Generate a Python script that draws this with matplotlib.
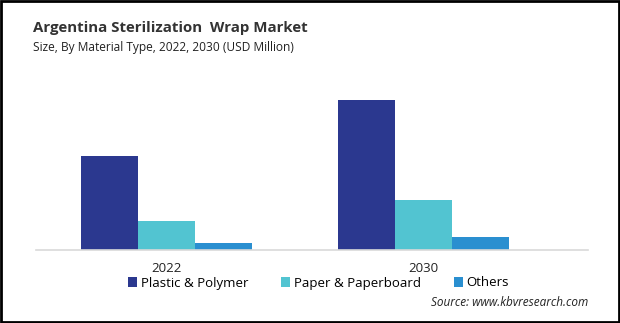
import matplotlib
matplotlib.use("Agg")
import matplotlib.pyplot as plt
import numpy as np
from matplotlib.patches import Patch, Rectangle

plt.rcParams['font.family'] = ['Open Sans', 'DejaVu Sans']

years = ['2022', '2030']
segments = ['Plastic & Polymer', 'Paper & Paperboard', 'Others']
plastic = [9.4, 15.0]
paper = [2.9, 5.0]
others = [0.7, 1.3]
colors = ['#2b388f', '#52c4d1', '#2a8fd0']

fig = plt.figure(figsize=(6.2, 3.23), dpi=100)
ax = fig.add_axes([36/620, 1-250/323, (588-36)/620, (250-80)/323])

x = np.arange(len(years))
w = 0.222
for i, (vals, c) in enumerate(zip([plastic, paper, others], colors)):
    ax.bar(x + (i-1)*w, vals, width=w, color=c, linewidth=0)

ax.set_xlim(-0.508, 1.640)
ax.set_ylim(0, 17.0)
ax.set_yticks([])
ax.set_xticks(x)
ax.set_xticklabels(years, fontsize=9.5, color='#222222')
ax.tick_params(axis='x', length=0, pad=9)
for s in ['top', 'right', 'left']:
    ax.spines[s].set_visible(False)
ax.spines['bottom'].set_color('#d9d9d9')
ax.spines['bottom'].set_linewidth(1.2)

fig.text(33/620, 1-28/323, 'Argentina Sterilization  Wrap Market', fontsize=10.8,
         fontweight='bold', color='#333333', va='center', ha='left')
fig.text(33/620, 1-47/323, 'Size, By Material Type, 2022, 2030 (USD Million)', fontsize=8.6,
         color='#222222', va='center', ha='left')

handles = [Patch(facecolor=c, edgecolor='none') for c in colors]
fig.legend(handles, segments, loc='center left', bbox_to_anchor=(128/620, 1-283/323),
           ncol=3, frameon=False, fontsize=9.5, handlelength=0.7, handleheight=0.7,
           handletextpad=0.3, columnspacing=2.45, borderpad=0, borderaxespad=0)

fig.text(588/620, 1-303/323, 'Source: www.kbvresearch.com', fontsize=8.5,
         style='italic', color='#222222', ha='right', va='center')

fig.patches.append(Rectangle((0.001, 0.002), 0.997, 0.995, transform=fig.transFigure,
                             fill=False, edgecolor='black', linewidth=2))

fig.savefig('out.png', dpi=100)
